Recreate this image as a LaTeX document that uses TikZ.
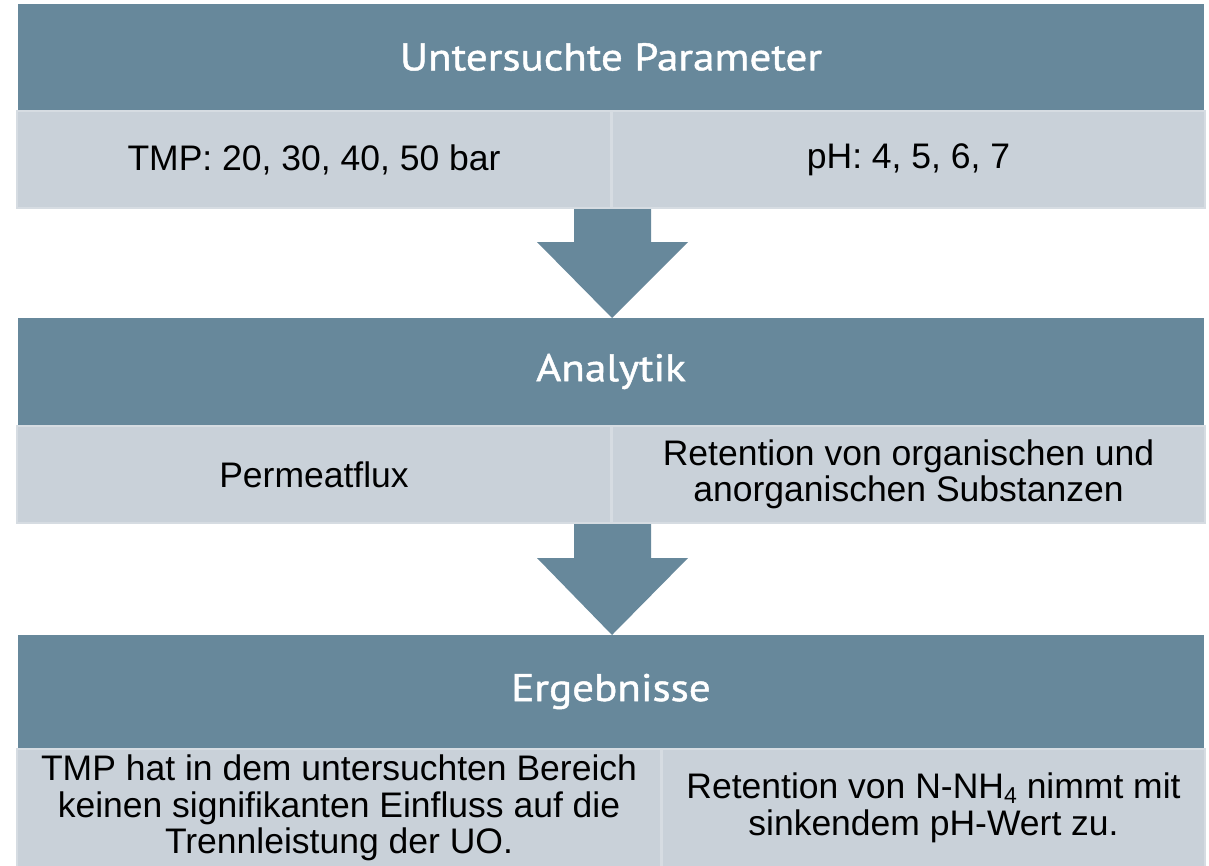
\documentclass[tikz,border=0pt]{standalone}
\usepackage{fontspec}
\setmainfont{Liberation Sans}
\newfontfamily\headfont{PT Sans}[FakeBold=1.2, FakeStretch=1.12]
\definecolor{headblue}{HTML}{67889B}
\definecolor{cellgray}{HTML}{C9D1D9}
\definecolor{cellline}{HTML}{D6DCE2}
\tikzset{
  header/.style={anchor=north west, fill=headblue, inner sep=0pt, outer sep=0pt,
    text=white, font=\headfont\fontsize{38.5}{42}\selectfont},
  cellbox/.style={anchor=north west, fill=cellgray, draw=cellline, line width=1.5pt,
    inner sep=0pt, outer sep=0pt, align=center, text=black,
    font=\fontsize{35.5}{36.5}\selectfont},
  blockarrow/.style={fill=headblue, draw=none}
}
\newcommand{\subfour}{\raisebox{-0.25ex}{\fontsize{23}{23}\selectfont 4}}
\begin{document}
\begin{tikzpicture}[x=1pt,y=-1pt]
\useasboundingbox (0,0) rectangle (1209,865);
\clip (0,0) rectangle (1209,865);
% arrows first
\fill[blockarrow] (574,205) -- (651,205) -- (651,242) -- (688,242) -- (612,318) -- (537,242) -- (574,242) -- cycle;
\fill[blockarrow] (574,520) -- (651,520) -- (651,558) -- (688,558) -- (612,635) -- (537,558) -- (574,558) -- cycle;
% row 1
\node[header, minimum width=1186pt, minimum height=106pt] (h1) at (18,4) {Untersuchte Parameter};
\node[cellbox, minimum width=594pt, minimum height=97pt] (c1l) at (17,111) {TMP: 20, 30, 40, 50 bar};
\node[cellbox, minimum width=593pt, minimum height=97pt] (c1r) at (612,111) {pH: 4, 5, 6, 7};
% row 2
\node[header, minimum width=1186pt, minimum height=107pt] (h2) at (18,318) {Analytik};
\node[cellbox, minimum width=594pt, minimum height=97pt] (c2l) at (17,426) {Permeatflux};
\node[cellbox, minimum width=593pt, minimum height=97pt] (c2r) at (612,426) {Retention von organischen und\\anorganischen Substanzen};
% row 3
\node[header, minimum width=1186pt, minimum height=113pt] (h3) at (18,635) {Ergebnisse};
\node[cellbox, minimum width=644pt, minimum height=118pt] (c3l) at (17,749) {TMP hat in dem untersuchten Bereich\\keinen signifikanten Einfluss auf die\\Trennleistung der UO.};
\node[cellbox, minimum width=543pt, minimum height=118pt] (c3r) at (662,749) {Retention von N-NH\subfour{} nimmt mit\\sinkendem pH-Wert zu.};
\end{tikzpicture}
\end{document}
